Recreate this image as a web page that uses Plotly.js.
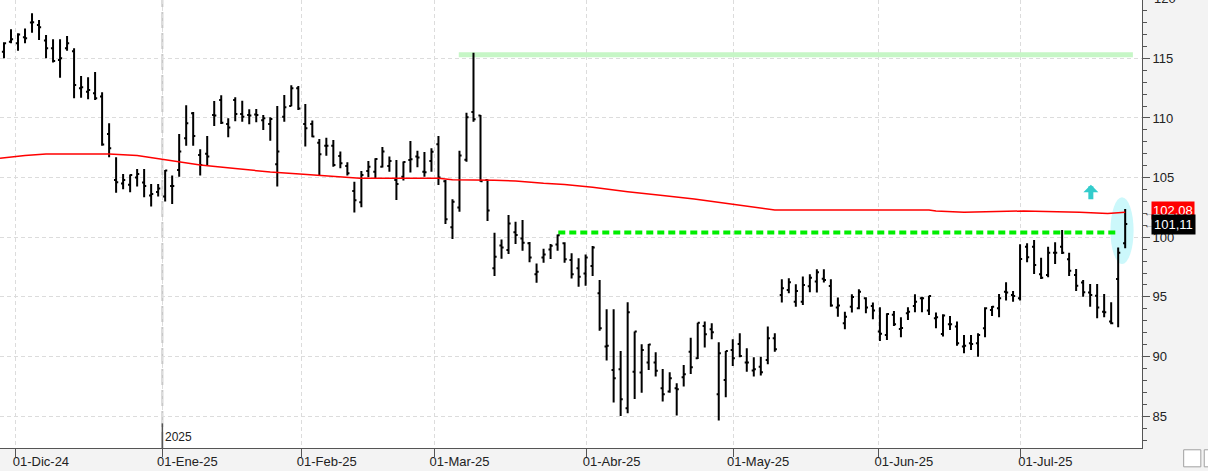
<!DOCTYPE html>
<html>
<head>
<meta charset="utf-8">
<script src="https://cdn.plot.ly/plotly-3.0.1.min.js"></script>
<style>
html,body{margin:0;padding:0;background:#f3f3f3;}
#chart{width:1208px;height:471px;}
</style>
</head>
<body>
<div id="chart"></div>
<script>
// ---- Data ----
const opens = [
115.56,116.4,116.26,116.76,118.0,117.8,116.5,115.84,114.86,115.84,
115.6,112.5,112.2,112.07,111.79,108.66,104.8,104.5,104.4,105.0,
104.58,103.5,103.8,103.41,104.3,105.64,108.3,110.4,106.9,107.0,
110.25,111.5,109.5,111.5,110.33,110.25,110.3,109.8,109.5,106.12,
110.1,111.0,112.5,109.5,109.5,107.93,107.68,107.68,106.82,105.98,
103.88,102.93,105.56,105.5,105.92,105.98,104.8,105.08,106.48,106.76,
105.5,106.4,107.8,104.7,100.83,102.5,106.5,110.5,110.2,104.8,
97.39,99.3,98.93,100.41,99.9,99.5,96.9,98.3,98.98,99.4,
99.5,98.1,97.39,96.97,97.59,95.3,90.83,88.87,88.93,85.66,
88.73,88.65,89.5,89.5,87.34,87.06,87.34,88.26,90.41,89.85,
92.56,92.28,86.83,88.04,90.55,91.05,89.49,88.82,89.15,89.71,
91.53,95.16,95.58,94.6,94.6,95.9,96.28,96.53,95.91,94.1,
92.79,94.18,94.04,94.88,94.24,92.1,91.8,93.5,92.3,93.62,
94.24,94.88,93.85,93.2,91.89,92.7,92.51,90.83,91.11,91.11,
92.37,93.9,94.04,95.44,95.16,94.88,99.21,99.21,96.89,96.84,
98.71,99.21,98.15,96.84,96.2,95.36,95.1,93.76,92.93,96.5,
99.49];
const highs = [
116.34,117.43,117.1,117.51,118.77,118.21,116.96,116.59,116.59,116.87,
115.84,113.52,113.41,113.85,112.15,109.55,106.7,105.3,105.25,105.73,
105.73,104.47,104.47,105.64,105.17,108.66,111.06,110.5,107.37,108.49,
111.42,111.9,109.97,111.73,111.45,110.73,110.75,110.25,110.06,111.0,
111.93,112.74,112.68,111.17,109.78,108.24,108.35,108.16,107.18,106.28,
104.66,105.56,106.4,106.62,107.57,106.76,106.48,106.34,108.07,107.26,
107.15,107.46,108.49,104.8,103.18,107.25,110.44,115.47,110.25,104.85,
100.38,99.82,101.86,101.3,101.44,99.6,97.8,99.04,99.43,100.24,
99.57,98.65,98.23,98.56,99.26,96.42,93.96,93.96,90.47,94.55,
92.09,91.03,91.05,90.35,88.96,88.68,87.76,89.29,91.58,92.84,
92.93,92.79,91.19,90.47,91.44,91.95,90.69,89.94,89.99,92.51,
91.95,96.47,96.56,96.05,96.7,96.89,97.31,97.31,96.47,94.94,
93.76,95.22,95.64,94.97,94.52,94.13,93.62,93.82,93.29,94.13,
95.22,95.02,95.1,93.68,93.54,93.4,92.93,91.81,91.81,91.95,
94.13,94.24,95.25,96.22,95.5,99.41,99.49,99.77,98.29,99.21,
99.58,100.61,98.71,97.34,96.42,96.08,96.08,95.25,94.55,99.13,
102.37];
const lows = [
115.0,116.26,115.64,116.26,117.15,116.54,115.0,114.66,113.38,115.64,
111.65,111.7,111.56,111.51,107.68,106.7,103.74,104.02,103.77,104.25,
103.35,102.57,103.41,102.99,102.79,105.08,107.68,107.68,105.17,106.0,
109.33,109.5,108.38,109.72,109.69,109.47,109.64,108.99,108.1,104.25,
109.69,110.98,110.67,107.6,108.38,105.22,106.84,105.92,105.78,105.17,
102.07,102.51,105.03,104.94,105.84,105.5,103.13,104.75,105.42,105.87,
105.08,105.5,104.38,101.1,99.85,102.14,106.33,109.69,104.66,101.36,
96.75,98.2,98.6,99.43,98.87,97.9,96.19,97.87,98.17,98.87,
97.87,96.55,95.85,95.94,96.75,92.17,89.66,86.14,85.02,85.24,
86.44,86.97,88.87,88.32,86.22,86.97,85.05,87.48,88.54,89.8,
90.75,91.44,84.63,86.58,89.21,89.94,88.73,88.32,88.4,89.35,
90.41,94.52,95.3,94.18,94.32,95.38,95.36,96.2,94.18,93.34,
92.28,93.68,93.96,93.62,93.12,91.3,91.39,92.56,91.61,93.07,
93.71,93.71,93.48,92.37,91.67,92.23,90.91,90.27,90.55,89.99,
91.61,93.4,93.29,94.69,94.6,94.69,97.9,96.92,96.5,96.64,
97.76,98.6,96.75,95.5,95.02,94.18,93.2,93.29,92.7,92.45,
99.07];
const closes = [
116.26,116.6,117.0,116.68,118.02,117.6,115.84,114.78,115.0,116.26,
112.77,112.57,112.35,111.65,107.77,107.46,104.6,104.8,105.22,105.3,
104.3,103.63,104.08,105.6,104.3,107.18,109.55,108.49,106.06,106.76,
110.2,109.6,109.2,110.33,110.1,110.2,110.25,109.97,109.92,107.18,
110.9,112.5,110.8,109.13,108.44,106.95,107.68,106.06,106.2,105.36,
103.1,105.22,105.92,106.56,107.18,106.4,104.47,106.31,106.54,106.68,
105.45,107.17,105.0,101.5,102.98,106.86,110.05,109.9,104.7,102.25,
98.37,99.15,101.16,100.19,99.54,98.3,97.1,98.56,99.29,100.16,
98.15,96.9,96.69,98.31,99.15,92.37,90.9,88.18,86.42,93.71,
92.09,90.55,91.0,88.8,86.83,88.17,87.25,88.51,89.1,92.84,
91.86,92.03,90.27,90.47,89.85,90.05,89.49,88.93,88.68,91.53,
90.6,95.72,96.22,95.5,96.0,96.61,97.06,96.42,94.27,94.27,
93.34,95.0,95.44,94.1,93.85,91.9,93.57,92.7,92.4,93.76,
94.6,94.88,95.08,93.3,93.43,92.7,91.11,90.91,91.05,91.81,
94.04,94.18,94.88,95.36,95.08,98.18,98.32,97.68,96.61,98.71,
98.71,98.71,97.2,95.94,95.38,95.16,94.1,93.71,92.79,98.71,
101.11];

// moving average (red line), sampled at bar positions
const maIndex  = [-0.57, 3, 6, 15, 19, 23, 28, 33, 38, 42.2, 46.5, 50.8, 62, 64, 70, 73, 77, 80, 84, 87, 89, 94, 98.5, 104, 108, 110, 132, 133, 137, 145.5, 153.5, 157.5, 160];
const maValues = [106.62, 106.86, 106.98, 106.98, 106.85, 106.5, 106.06, 105.76, 105.47, 105.3, 105.13, 104.94, 104.94, 104.82, 104.78, 104.71, 104.52, 104.43, 104.19, 103.96, 103.82, 103.49, 103.2, 102.76, 102.43, 102.29, 102.29, 102.2, 102.09, 102.2, 102.09, 102.0, 102.1];

// x-axis month ticks (bar-index positions) and labels
const monthTickPos  = [1.7, 22.6, 42.5, 61.45, 83.15, 104.05, 124.85, 145.05];
const monthTickText = ['01-Dic-24','01-Ene-25','01-Feb-25','01-Mar-25','01-Abr-25','01-May-25','01-Jun-25','01-Jul-25'];
const yearLabel = '2025';
const yearTickPos = 22.6;

// drawn levels
const resistanceLevel = 115.3;
const resistanceFrom = 64.9, resistanceTo = 161.1;
const supportLevel = 100.4;
const supportFrom = 79.1, supportTo = 159.0;
const lastMA = 102.08;
const lastClose = 101.11;
const highlightX = [157.9, 161.2];
const highlightY = [97.76, 103.35];
const arrowX = 155.1, arrowTipY = 104.4;

// ---- Chart ----
const barIdx = closes.map((_, i) => i);
const yRange = [82.33, 119.89];
const xRange = [-0.57, 162.4];
const FONT = '"Liberation Sans Narrow", "Liberation Sans", Arial, sans-serif';

const traces = [
  {
    type: 'ohlc',
    x: barIdx, open: opens, high: highs, low: lows, close: closes,
    increasing: {line: {color: '#000000', width: 2}},
    decreasing: {line: {color: '#000000', width: 2}},
    tickwidth: 0.3,
    hoverinfo: 'skip',
    showlegend: false
  },
  {
    type: 'scatter', mode: 'lines',
    x: maIndex, y: maValues,
    line: {color: '#ff0000', width: 1.5},
    hoverinfo: 'skip', showlegend: false
  }
];

const shapes = [
  // year separator
  {type: 'line', xref: 'x', yref: 'paper', x0: yearTickPos, x1: yearTickPos, y0: 0, y1: 1,
   line: {color: '#c8c8c8', width: 2, dash: '16px,5px'}, layer: 'between'},
  {type: 'line', xref: 'x', yref: 'paper', x0: yearTickPos, x1: yearTickPos, y0: 0, y1: 0.055,
   line: {color: '#555555', width: 1.5}, layer: 'above'},
  // resistance band
  {type: 'line', xref: 'x', yref: 'y', x0: resistanceFrom, x1: resistanceTo, y0: resistanceLevel, y1: resistanceLevel,
   line: {color: '#c6f6c6', width: 5}, layer: 'between'},
  // highlight ellipse
  {type: 'circle', xref: 'x', yref: 'y', x0: highlightX[0], x1: highlightX[1], y0: highlightY[0], y1: highlightY[1],
   fillcolor: '#ccf8fb', line: {width: 0}, layer: 'between'},
  // support dashed line
  {type: 'line', xref: 'x', yref: 'y', x0: supportFrom, x1: supportTo, y0: supportLevel, y1: supportLevel,
   line: {color: '#00ee00', width: 4, dash: '7px,4px'}, layer: 'between'},
  // bottom-right small buttons
  {type: 'rect', xref: 'paper', yref: 'paper', x0: 1.0365, x1: 1.0515, y0: -0.042, y1: -0.004,
   line: {color: '#a0a0a0', width: 1}, fillcolor: '#ffffff', layer: 'above'},
  {type: 'rect', xref: 'paper', yref: 'paper', x0: 1.0545, x1: 1.062, y0: -0.042, y1: -0.004,
   line: {color: '#a0a0a0', width: 1}, fillcolor: '#ffffff', layer: 'above'}
];

const yPaper = v => (v - yRange[0]) / (yRange[1] - yRange[0]);

const annotations = [
  {text: yearLabel, xref: 'x', yref: 'paper', x: yearTickPos, y: 0.005, xanchor: 'left', yanchor: 'bottom',
   xshift: 1, showarrow: false, font: {family: FONT, size: 12, color: '#222'}},
  {text: '120', xref: 'paper', yref: 'paper', x: 1, y: yPaper(120), xanchor: 'left', yanchor: 'middle',
   xshift: 10, showarrow: false, font: {family: FONT, size: 13, color: '#222'}},
  {text: '', xref: 'x', yref: 'y', x: arrowX, y: arrowTipY, ax: 0, ay: 16, showarrow: true,
   arrowhead: 1, arrowwidth: 5, arrowsize: 0.5, arrowcolor: '#33cccc'},
  {text: '←', xref: 'paper', yref: 'y', x: 1, y: lastMA, xanchor: 'left', yanchor: 'middle', xshift: 0,
   showarrow: false, font: {family: FONT, size: 10, color: '#444'}},
  {text: '←', xref: 'paper', yref: 'y', x: 1, y: lastClose, xanchor: 'left', yanchor: 'middle', xshift: 0,
   showarrow: false, font: {family: FONT, size: 10, color: '#444'}},
  {text: lastMA.toFixed(2).replace('.', ','), xref: 'paper', yref: 'y', x: 1, y: lastMA, xanchor: 'left', yanchor: 'middle',
   xshift: 9, yshift: 2, showarrow: false, bgcolor: '#ff0000', borderpad: 1, font: {family: FONT, size: 13, color: '#ffffff'}},
  {text: lastClose.toFixed(2).replace('.', ','), xref: 'paper', yref: 'y', x: 1, y: lastClose, xanchor: 'left', yanchor: 'middle',
   xshift: 9, showarrow: false, bgcolor: '#000000', borderpad: 2, font: {family: FONT, size: 13, color: '#ffffff'}}
];

const layout = {
  width: 1208, height: 471,
  margin: {l: 0, r: 66, t: 0, b: 23, pad: 0},
  paper_bgcolor: '#f3f3f3',
  plot_bgcolor: '#ffffff',
  showlegend: false,
  hovermode: false,
  font: {family: FONT, size: 12, color: '#222'},
  xaxis: {
    range: xRange, type: 'linear',
    tickmode: 'array', tickvals: monthTickPos, ticktext: monthTickText,
    ticks: 'outside', ticklen: 8, tickcolor: '#555', tickwidth: 1,
    showline: true, linecolor: '#555', linewidth: 1,
    showgrid: true, gridcolor: '#dcdcdc', griddash: '4px,3px', gridwidth: 1,
    zeroline: false, ticklabelshift: 25, ticklabelstandoff: -7,
    tickfont: {family: FONT, size: 13, color: '#222'},
    rangeslider: {visible: false}, fixedrange: true
  },
  yaxis: {
    range: yRange, side: 'right',
    tick0: 0, dtick: 5,
    ticks: 'outside', ticklen: 7, tickcolor: '#555', tickwidth: 1,
    showline: true, linecolor: '#555', linewidth: 1,
    showgrid: true, gridcolor: '#dcdcdc', griddash: '4px,3px', gridwidth: 1,
    zeroline: false,
    minor: {dtick: 1, ticks: 'outside', ticklen: 4, tickcolor: '#555', showgrid: false},
    tickfont: {family: FONT, size: 13, color: '#222'},
    fixedrange: true
  },
  shapes: shapes,
  annotations: annotations
};

Plotly.newPlot('chart', traces, layout, {staticPlot: true, displayModeBar: false});
</script>
</body>
</html>
